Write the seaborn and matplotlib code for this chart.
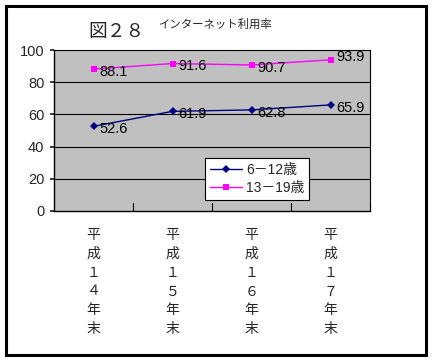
import matplotlib
matplotlib.use("Agg")
import matplotlib.pyplot as plt
import seaborn as sns
import pandas as pd
from matplotlib.patches import Rectangle

categories = ["平\n成\n１\n４\n年\n末", "平\n成\n１\n５\n年\n末", "平\n成\n１\n６\n年\n末", "平\n成\n１\n７\n年\n末"]
series_6_12 = [52.6, 61.9, 62.8, 65.9]
series_13_19 = [88.1, 91.6, 90.7, 93.9]
series_names = ["6－12歳", "13－19歳"]
yticks = [0, 20, 40, 60, 80, 100]

sns.set_theme(style="white")
plt.rcParams['font.family'] = ['Liberation Sans', 'Noto Sans CJK JP', 'DejaVu Sans']

df = pd.DataFrame({
    "x": list(range(len(categories))) * 2,
    "value": series_6_12 + series_13_19,
    "series": [series_names[0]] * 4 + [series_names[1]] * 4,
})

fig = plt.figure(figsize=(4.32, 3.61), dpi=100)
ax = fig.add_axes([54/432, 1 - 211/361, 316/432, 161/361])
ax.set_facecolor("#C0C0C0")

palette = {series_names[0]: "#000080", series_names[1]: "#FF00FF"}
markers = {series_names[0]: "D", series_names[1]: "s"}
sns.lineplot(data=df, x="x", y="value", hue="series", style="series",
             palette=palette, markers=markers, dashes=False, ax=ax,
             linewidth=1.0, markersize=5, markeredgewidth=0)
for line in ax.get_lines():
    if line.get_color() == "#000080":
        line.set_markersize(4.5)

for i, v in enumerate(series_6_12):
    ax.annotate(f"{v}", (i, v), xytext=(4, -2), textcoords="offset points",
                ha="left", va="center", fontsize=10.5, color="black")
for i, v in enumerate(series_13_19):
    ax.annotate(f"{v}", (i, v), xytext=(4, -2 if i < 3 else 2), textcoords="offset points",
                ha="left", va="center", fontsize=10.5, color="black")

ax.set_xlim(-0.5, 3.5)
ax.set_ylim(0, 100)
ax.set_yticks(yticks)
ax.set_yticklabels([str(t) for t in yticks], fontsize=10.5)
for t in yticks[1:-1]:
    ax.axhline(t, color="black", linewidth=0.8, zorder=0.5)

ax.set_xticks(range(len(categories)))
ax.set_xticklabels(categories, fontsize=10, linespacing=1.45, va="top")
ax.tick_params(axis="x", length=0, pad=12)
ax.tick_params(axis="y", length=3, direction="out", left=True, pad=4)
for b in [0.5, 1.5, 2.5, 3.5]:
    ax.plot([b, b], [0, 5], color="black", linewidth=0.8, clip_on=False)
ax.set_xlabel("")
ax.set_ylabel("")
for s in ax.spines.values():
    s.set_color("black")
    s.set_linewidth(0.8)
ax.spines["left"].set_linewidth(1.0)
ax.spines["bottom"].set_linewidth(1.0)

leg = ax.legend(loc="lower left", bbox_to_anchor=(0.478, 0.068), fontsize=10,
                frameon=True, fancybox=False, edgecolor="black", framealpha=1,
                handlelength=2.3, borderpad=0.35, labelspacing=0.3, handletextpad=0.3,
                borderaxespad=0)
leg.get_frame().set_linewidth(0.8)

fig.text(116/432, 1 - 32/361, "図２８", fontsize=13.5, ha="center", va="center")
fig.text(215/432, 1 - 24/361, "インターネット利用率", fontsize=8.2, ha="center", va="center")

fig.patches.append(Rectangle((6/432, 6/361), 420/432, 349/361, transform=fig.transFigure,
                             fill=False, edgecolor="black", linewidth=2.2))

fig.savefig("out.png", dpi=100)
